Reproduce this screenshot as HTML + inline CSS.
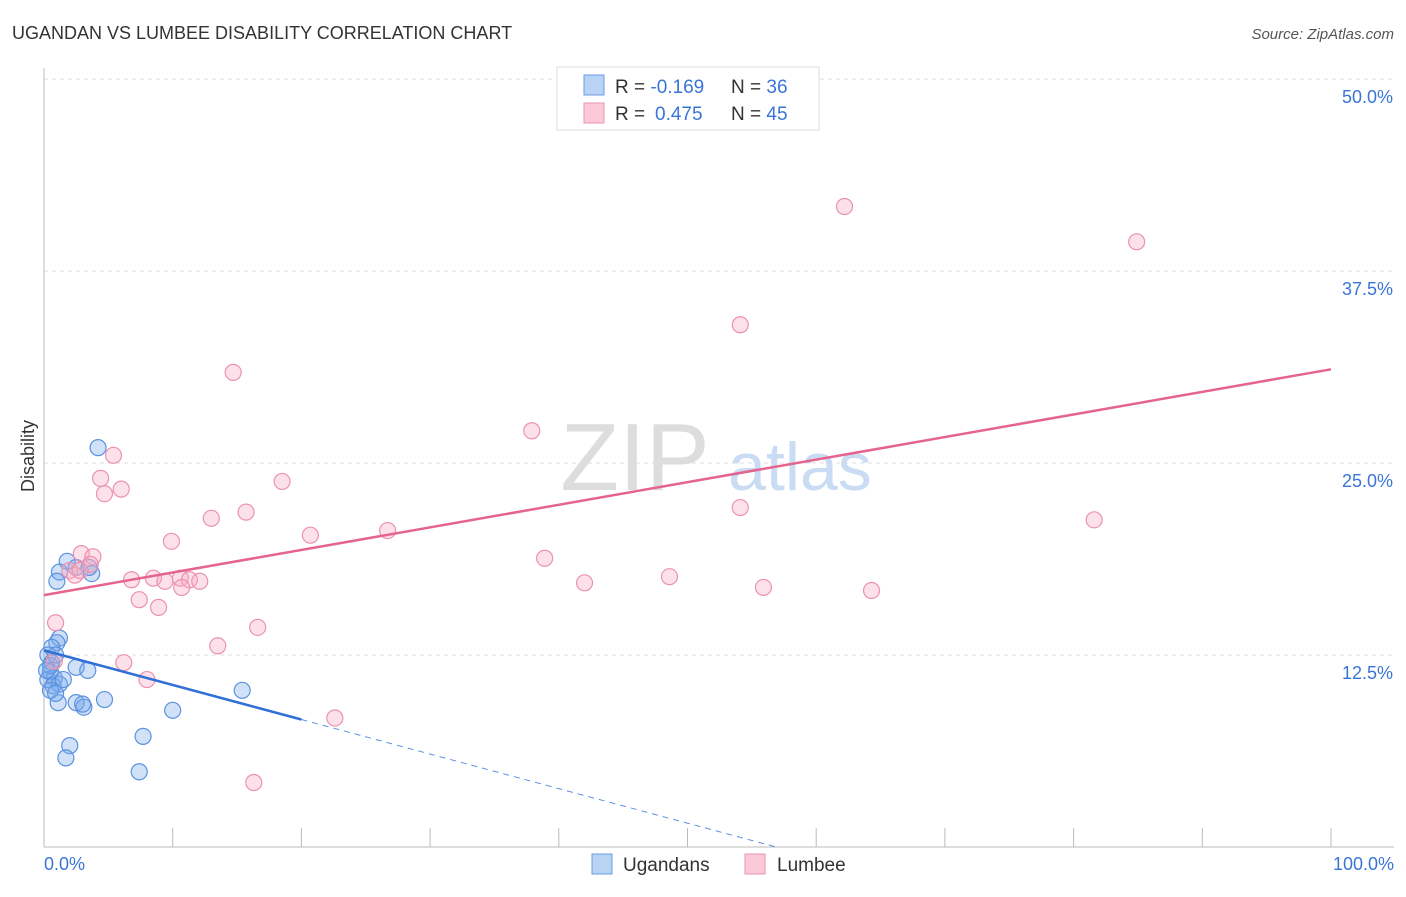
<!DOCTYPE html>
<html><head><meta charset="utf-8"><style>
body{margin:0;background:#fff;font-family:"Liberation Sans",sans-serif;}
svg text{font-family:"Liberation Sans",sans-serif;}
</style></head><body>
<svg width="1406" height="892" viewBox="0 0 1406 892">
<text x="12" y="39" font-size="18" fill="#333">UGANDAN VS LUMBEE DISABILITY CORRELATION CHART</text>
<text x="1394" y="39" font-size="15" fill="#555" font-style="italic" text-anchor="end">Source: ZipAtlas.com</text>
<g id="grid"></g>
<text x="635" y="490" font-size="96" fill="#ddd" font-family="Liberation Serif" text-anchor="middle">ZIP</text>
<text x="800" y="490" font-size="68" fill="#c9dcf3" text-anchor="middle">atlas</text>
<line x1="44" y1="68" x2="44" y2="847" stroke="#bbb"/>
<line x1="44" y1="847" x2="1394" y2="847" stroke="#bbb"/>
<text x="34" y="456" font-size="18" fill="#333" text-anchor="middle" transform="rotate(-90 34 456)">Disability</text>
<text x="44" y="870" font-size="18" fill="#3a75d6">0.0%</text>
<text x="1394" y="870" font-size="18" fill="#3a75d6" text-anchor="end">100.0%</text>
<g id="marks"></g>
<g>
<rect x="557" y="67" width="262" height="63" fill="#fff" stroke="#ddd"/>
<rect x="584" y="75" width="20" height="20" fill="#b9d3f5" stroke="#6a9be0"/>
<rect x="584" y="103" width="20" height="20" fill="#fbc9d8" stroke="#eb95b0"/>
<text x="615" y="93" font-size="19" fill="#333">R = <tspan fill="#3a75d6">-0.169</tspan><tspan x="731">N = </tspan><tspan fill="#3a75d6">36</tspan></text>
<text x="615" y="120" font-size="19" fill="#333">R = <tspan fill="#3a75d6" x="655">0.475</tspan><tspan x="731">N = </tspan><tspan fill="#3a75d6">45</tspan></text>
</g>
<g>
<rect x="592" y="854" width="20" height="20" fill="#b9d3f5" stroke="#6a9be0"/>
<text x="623" y="871" font-size="19" fill="#333">Ugandans</text>
<rect x="745" y="854" width="20" height="20" fill="#fbc9d8" stroke="#eb95b0"/>
<text x="777" y="871" font-size="19" fill="#333">Lumbee</text>
</g>
</svg>
<script>
const yTicks=[12.5,25,37.5,50];
const yTickLabels=["12.5%","25.0%","37.5%","50.0%"];
const xTicks=[0,10,20,30,40,50,60,70,80,90,100];
const ugX=[4.2,1.8,1.2,2.5,3.7,3.5,1.0,1.2,1.0,0.6,0.3,0.6,0.5,0.3,0.8,0.7,1.2,1.5,2.5,3.4,1.1,2.5,3.1,3.0,4.7,15.4,10.0,7.7,2.0,1.7,7.4,0.5,0.9,0.2,0.5,0.9];
const ugY=[26.0,18.6,17.9,18.2,17.8,18.2,17.3,13.6,13.3,13.0,12.5,12.0,11.4,10.9,11.0,10.5,10.6,10.9,11.7,11.5,9.4,9.4,9.1,9.3,9.6,10.2,8.9,7.2,6.6,5.8,4.9,11.8,12.5,11.5,10.2,10.0];
const luX=[62.2,84.9,54.1,14.7,37.9,5.4,4.4,6.0,4.7,18.5,54.1,15.7,13.0,81.6,26.7,20.7,9.9,38.9,2.9,3.8,3.6,2.0,2.4,48.6,42.0,6.8,8.5,10.6,9.4,11.3,12.1,10.7,55.9,64.3,7.4,8.9,0.9,16.6,13.5,6.2,0.8,8.0,22.6,16.3,2.8];
const luY=[41.7,39.4,34.0,30.9,27.1,25.5,24.0,23.3,23.0,23.8,22.1,21.8,21.4,21.3,20.6,20.3,19.9,18.8,19.1,18.9,18.4,18.0,17.7,17.6,17.2,17.4,17.5,17.5,17.3,17.4,17.3,16.9,16.9,16.7,16.1,15.6,14.6,14.3,13.1,12.0,12.1,10.9,8.4,4.2,18.0];
const ugTrend=[12.8,-0.225];
const luTrend=[16.4,0.147];
const NS="http://www.w3.org/2000/svg";
const sx=v=>44+v*12.87, sy=v=>847-v*15.36;
function mk(tag,attrs,parent){const e=document.createElementNS(NS,tag);for(const k in attrs)e.setAttribute(k,attrs[k]);parent.appendChild(e);return e;}
const grid=document.getElementById('grid'), marks=document.getElementById('marks');
yTicks.forEach((t,i)=>{
 const l=mk('line',{x1:44,x2:1394,y1:sy(t),y2:sy(t),stroke:'#ddd','stroke-dasharray':'4,4'},grid);
 
 
 const tx=mk('text',{x:1393,y:sy(t)+24,'font-size':18,fill:'#3a75d6','text-anchor':'end'},grid);
 tx.textContent=yTickLabels[i];
 
 
});
xTicks.forEach(t=>{
 const l=mk('line',{x1:sx(t),x2:sx(t),y1:828,y2:847,stroke:'#bbb'},grid);
 
 
});
ugX.forEach((x,i)=>{
 const c=mk('circle',{cx:sx(x),cy:sy(ugY[i]),r:8,fill:'rgba(120,170,235,0.35)',stroke:'#5b92e0','stroke-width':1.2},marks);
 
 
});
luX.forEach((x,i)=>{
 const c=mk('circle',{cx:sx(x),cy:sy(luY[i]),r:8,fill:'rgba(248,170,195,0.35)',stroke:'#eb92ae','stroke-width':1.2},marks);
 
 
});
const lt=mk('line',{x1:sx(0),y1:sy(luTrend[0]),x2:sx(100),y2:sy(luTrend[0]+100*luTrend[1]),stroke:'#e5648d','stroke-width':2.5},marks);


const ut=mk('line',{x1:sx(0),y1:sy(ugTrend[0]),x2:sx(20),y2:sy(ugTrend[0]+20*ugTrend[1]),stroke:'#2f6fd6','stroke-width':2.5},marks);


const xe=-ugTrend[0]/ugTrend[1];
const ud=mk('line',{x1:sx(20),y1:sy(ugTrend[0]+20*ugTrend[1]),x2:sx(xe),y2:sy(0),stroke:'#5b92e0','stroke-width':1,'stroke-dasharray':'6,5'},marks);


</script>
</body></html>
